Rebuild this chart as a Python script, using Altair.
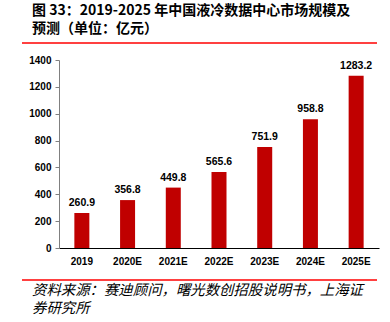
import altair as alt
import pandas as pd

categories = ["2019", "2020E", "2021E", "2022E", "2023E", "2024E", "2025E"]
values = [260.9, 356.8, 449.8, 565.6, 751.9, 958.8, 1283.2]
y_ticks = [0, 200, 400, 600, 800, 1000, 1200, 1400]
title_lines = ["图 33：2019-2025 年中国液冷数据中心市场规模及", "预测（单位：亿元）"]
source_lines = ["资料来源：赛迪顾问，曙光数创招股说明书，上海证", "券研究所"]

df = pd.DataFrame({"year": categories, "value": values})
df["label"] = [f"{v:.1f}" for v in values]

RED = "#C00000"
NUM_FONT = "Liberation Sans"
CJK = "Noto Sans CJK SC"

base = alt.Chart(df).encode(
    x=alt.X("year:N", sort=categories, title=None,
            scale=alt.Scale(paddingInner=0.67, paddingOuter=0.335),
            axis=alt.Axis(labelAngle=0, labelFont=NUM_FONT, labelFontSize=10,
                          labelFontWeight="bold", labelColor="#000000",
                          labelPadding=8, ticks=False, domainColor="#000000",
                          domainWidth=1)),
    y=alt.Y("value:Q", title=None,
            scale=alt.Scale(domain=[0, 1400], nice=False),
            axis=alt.Axis(values=y_ticks, format="d", labelFont=NUM_FONT,
                          labelFontSize=10, labelFontWeight="bold",
                          labelColor="#000000", grid=False, tickSize=4,
                          tickColor="#808080", domainColor="#808080",
                          labelPadding=4)),
)

bars = base.mark_bar(color=RED, size=15)
labels = base.mark_text(baseline="bottom", dy=-5, font=NUM_FONT, fontSize=10.5,
                        fontWeight="bold", color="#000000").encode(text="label:N")

one = pd.DataFrame({"a": [0]})


def txt(s, x, y, size, weight="bold", style="normal"):
    return alt.Chart(one).mark_text(align="left", baseline="middle", font=CJK,
                                    fontSize=size, fontWeight=weight,
                                    fontStyle=style, color="#000000").encode(
        x=alt.value(x), y=alt.value(y), text=alt.value(s))


r1 = alt.Chart(one).mark_rule(color="red", strokeWidth=1.5).encode(
    x=alt.value(-37), x2=alt.value(318), y=alt.value(-17))
r2 = alt.Chart(one).mark_rule(color="red", strokeWidth=1.5).encode(
    x=alt.value(-37), x2=alt.value(318), y=alt.value(220))

t1 = txt(title_lines[0], -27, -49, 14)
t2 = txt(title_lines[1], -27, -31, 14)
s1 = txt(source_lines[0], -27, 231, 14.4, weight="normal", style="italic")
s2 = txt(source_lines[1], -27, 249, 14.4, weight="normal", style="italic")

chart = alt.layer(bars, labels, r1, r2, t1, t2, s1, s2).properties(
    width=320, height=188,
    autosize=alt.AutoSizeParams(type="none"),
    padding={"left": 59, "top": 60, "right": 11, "bottom": 74},
).configure_view(strokeOpacity=0)

chart.save("out.html", embed_options={"renderer": "svg", "actions": False})
